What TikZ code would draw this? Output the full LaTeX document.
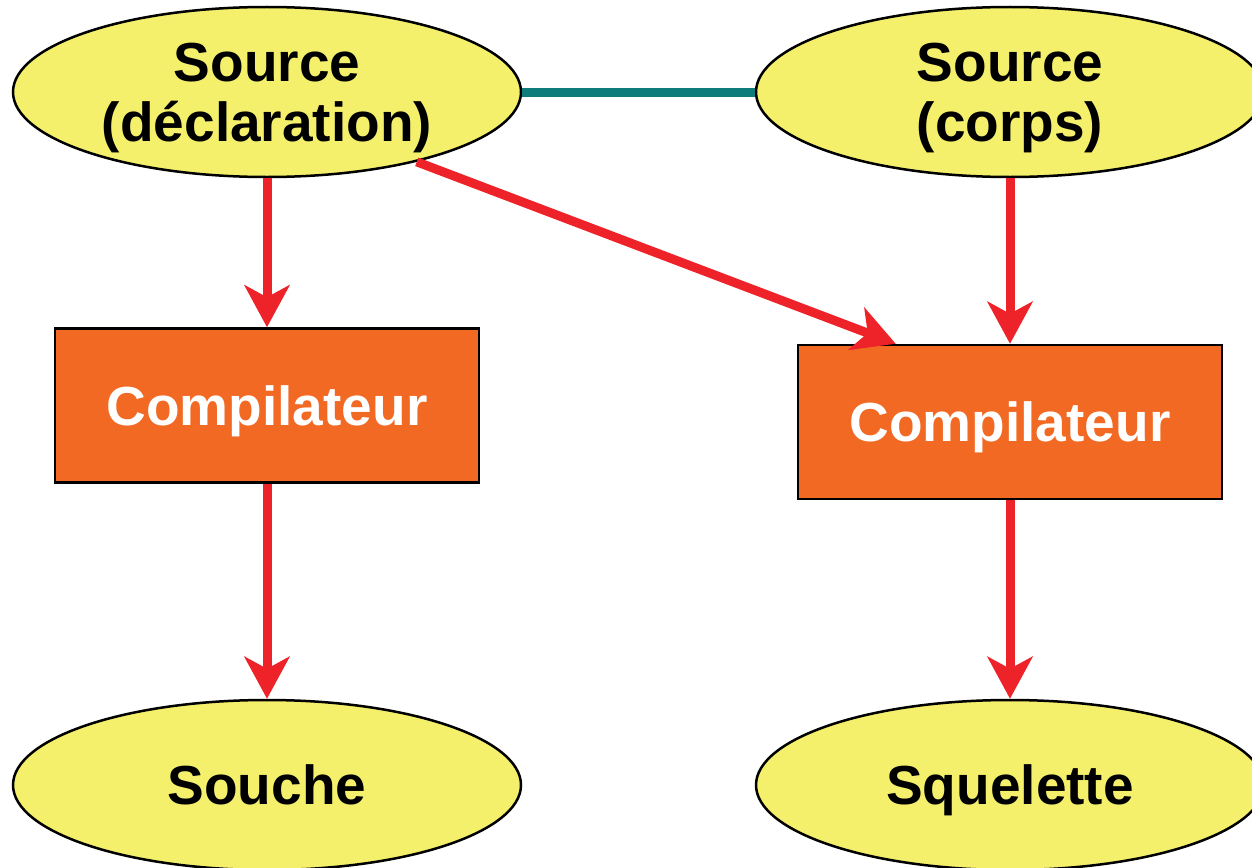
\documentclass[tikz,border=0pt]{standalone}
\usepackage{fontspec}
\setmainfont{Liberation Sans}
\usetikzlibrary{shapes.geometric,arrows.meta}
\definecolor{fillyellow}{HTML}{F5F06C}
\definecolor{boxorange}{HTML}{F26924}
\definecolor{arrowred}{HTML}{EE2229}
\definecolor{linkteal}{HTML}{0E7C7B}
\tikzset{
  oval/.style={ellipse, draw=black, line width=2.5pt, fill=fillyellow,
    minimum width=508pt, minimum height=170pt, inner sep=0pt, align=center,
    text depth=0pt, font=\fontsize{55}{60}\selectfont\bfseries},
  compbox/.style={rectangle, draw=black, line width=2.5pt, fill=boxorange,
    minimum width=424pt, minimum height=154pt, inner sep=0pt, text=white,
    text depth=0pt, font=\fontsize{55}{60}\selectfont\bfseries},
  flow/.style={draw=arrowred, line width=9pt,
    -{Stealth[length=42pt,width=45pt,inset=12pt,fill=arrowred]}},
  link/.style={draw=linkteal, line width=9pt}
}
\begin{document}
\begin{tikzpicture}[x=1pt,y=-1pt]
\useasboundingbox (0,0) rectangle (1252,867);
\node[oval] (sl) at (267,92) {Source\\(déclaration)};
\node[oval] (sr) at (1010,92) {Source\\(corps)};
\node[compbox] (cl) at (267,405.5) {Compilateur};
\node[compbox] (cr) at (1010,422) {Compilateur};
\node[oval] (souche) at (267,785) {Souche};
\node[oval] (squel) at (1010,785) {Squelette};
\draw[link] (sl) -- (sr);
\draw[flow] (sl.south) -- (cl.north);
\draw[flow] (sr.south) -- (cr.north);
\draw[flow] (cl.south) -- (souche.north);
\draw[flow] (cr.south) -- (squel.north);
\draw[flow] (sl.-25.8) -- ([xshift=99pt]cr.north west);
\end{tikzpicture}
\end{document}
